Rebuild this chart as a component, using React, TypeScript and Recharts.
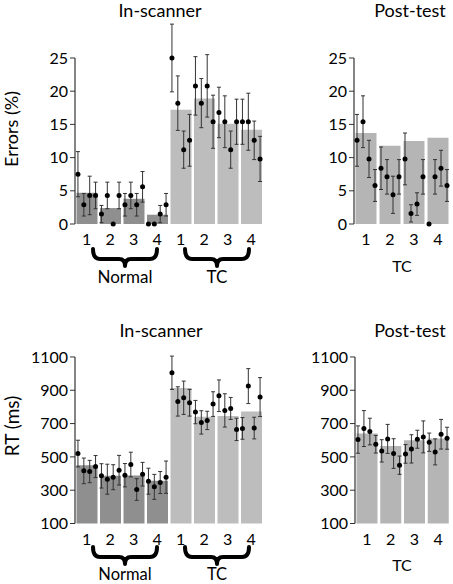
import React from 'react';
import { ComposedChart, Bar, Cell, Scatter, ErrorBar, XAxis, YAxis, ReferenceLine } from 'recharts';

// tick labels
const scanCats = ['1', '2', '3', '4', '1', '2', '3', '4'];
const postCats = ['1', '2', '3', '4'];

// in-scanner errors (%) — 4 points per condition
const scanErrMeans = [4.7, 2.4, 3.8, 1.4, 17.2, 18.9, 15.1, 14.2];
const scanErrPts = [
  7.5, 2.9, 4.3, 4.3, 1.5, 4.3, 0, 4.3, 2.9, 4.3, 2.9, 5.6, 0, 0, 1.5, 2.9,
  25.0, 18.2, 11.2, 12.6, 20.8, 18.2, 20.8, 15.4, 16.8, 15.4, 11.2, 15.4, 15.4, 15.4, 12.6, 9.8,
];
const scanErrSe = [
  3.4, 1.7, 2.9, 2.0, 1.3, 2.0, 0, 2.0, 1.7, 2.0, 1.7, 2.3, 0, 0, 1.3, 1.7,
  5.1, 4.1, 2.8, 3.9, 4.4, 3.7, 4.7, 4.0, 3.8, 3.9, 2.8, 3.4, 3.4, 4.3, 2.9, 3.4,
];

// post-test errors (%)
const postErrMeans = [13.7, 11.8, 12.5, 13.0];
const postErrPts = [12.6, 15.4, 9.8, 5.8, 8.4, 7.1, 4.4, 7.1, 9.8, 1.6, 3.0, 7.1, 0, 7.1, 8.4, 5.8];
const postErrSe = [3.9, 3.9, 2.8, 2.4, 3.2, 2.6, 2.8, 2.6, 3.9, 1.3, 1.7, 2.6, 0, 2.6, 2.7, 2.4];

// in-scanner RT (ms)
const scanRtMeans = [450, 386, 388, 356, 914, 741, 745, 773];
const scanRtPts = [
  520, 416, 412, 442, 386, 366, 378, 420, 390, 454, 304, 396, 354, 320, 346, 378,
  1005, 833, 855, 825, 769, 707, 719, 817, 867, 779, 791, 665, 671, 925, 673, 859,
];
const scanRtSe = [
  80, 77, 67, 66, 73, 90, 75, 89, 70, 74, 65, 71, 78, 75, 66, 97,
  100, 88, 100, 80, 70, 70, 55, 74, 95, 100, 66, 67, 65, 105, 65, 117,
];

// post-test RT (ms)
const postRtMeans = [640, 566, 600, 610];
const postRtPts = [604, 670, 652, 576, 536, 608, 520, 450, 518, 548, 606, 620, 588, 530, 636, 612];
const postRtSe = [82, 108, 80, 53, 67, 87, 89, 55, 56, 85, 54, 96, 55, 78, 89, 66];

const errTicks = [0, 5, 10, 15, 20, 25];
const rtTicks = [100, 300, 500, 700, 900, 1100];

const DARK = '#8f8f8f';
const LIGHT = '#bdbdbd';
const POST = '#b5b5b5';
const scanColors = [DARK, DARK, DARK, DARK, LIGHT, LIGHT, LIGHT, LIGHT];
const postColors = [POST, POST, POST, POST];

const AXIS = '#333';
const tickStyle = { fontSize: 16, fill: '#000', fontFamily: 'Lato' };

const Dot = (p: any) => <circle cx={p.cx} cy={p.cy} r={2.5} fill="#000" />;

interface PanelProps {
  left: number;
  top: number;
  width: number;
  height: number;
  margin: { top: number; right: number; bottom: number; left: number };
  yWidth: number;
  cats: string[];
  colors: string[];
  means: number[];
  pts: number[];
  se: number[];
  domain: [number, number];
  ticks: number[];
}

function Panel({ left, top, width, height, margin, yWidth, cats, colors, means, pts, se, domain, ticks }: PanelProps) {
  const barData = cats.map((c, i) => ({ i, mean: means[i] }));
  const pointData = pts.map((v, i) => ({ x: i + 0.5, y: v, e: se[i] }));
  const n = pts.length;
  const bounds = cats.map((_, i) => (i * n) / cats.length).concat(n);

  return (
    <div style={{ position: 'absolute', left, top }}>
      <ComposedChart width={width} height={height} data={barData} margin={margin} barCategoryGap={1.5}>
        <XAxis
          xAxisId="num"
          type="number"
          dataKey="x"
          domain={[0, n]}
          ticks={bounds}
          tickSize={5}
          tickFormatter={() => ''}
          height={0}
          stroke={AXIS}
        />
        <XAxis
          xAxisId="cat"
          dataKey="i"
          tickFormatter={(v: number) => cats[v]}
          axisLine={false}
          tickLine={false}
          tickSize={0}
          tickMargin={10}
          height={30}
          tick={tickStyle}
          interval={0}
        />
        <YAxis
          domain={domain}
          ticks={ticks}
          width={yWidth}
          axisLine={false}
          tickSize={5}
          tickMargin={2}
          tick={tickStyle}
          stroke={AXIS}
          interval={0}
        />
        <ReferenceLine
          xAxisId="num"
          segment={[{ x: 0, y: ticks[0] }, { x: 0, y: ticks[ticks.length - 1] }]}
          stroke={AXIS}
          strokeWidth={1.2}
        />
        <Bar xAxisId="cat" dataKey="mean" isAnimationActive={false}>
          {barData.map((d) => (
            <Cell key={d.i} fill={colors[d.i]} />
          ))}
        </Bar>
        <Scatter xAxisId="num" data={pointData} dataKey="y" shape={Dot} isAnimationActive={false}>
          <ErrorBar dataKey="e" direction="y" width={2} stroke="#333" strokeWidth={1} />
        </Scatter>
      </ComposedChart>
    </div>
  );
}

function brace(x1: number, x2: number, y0: number) {
  const mid = (x1 + x2) / 2;
  const yb = y0 + 10;
  const yt = y0 + 17;
  return `M${x1} ${y0} Q${x1} ${yb} ${x1 + 7} ${yb} L${mid - 6} ${yb} Q${mid} ${yb} ${mid} ${yt} Q${mid} ${yb} ${mid + 6} ${yb} L${x2 - 7} ${yb} Q${x2} ${yb} ${x2} ${y0}`;
}

export default function App() {
  const topM = { top: 11.5, right: 12, bottom: 36, left: 30 };
  const botM = { top: 40.3, right: 12, bottom: 30.5, left: 25 };
  return (
    <div style={{ position: 'relative', width: 453, height: 584, background: '#fff', fontFamily: 'Lato', overflow: 'hidden' }}>
      <style>{'body{margin:0}'}</style>
      <Panel left={0} top={0} width={275} height={290} margin={topM} yWidth={45}
        cats={scanCats} colors={scanColors} means={scanErrMeans} pts={scanErrPts} se={scanErrSe}
        domain={[0, 32]} ticks={errTicks} />
      <Panel left={280} top={0} width={173} height={290} margin={{ ...topM, right: 3, left: 30 }} yWidth={44}
        cats={postCats} colors={postColors} means={postErrMeans} pts={postErrPts} se={postErrSe}
        domain={[0, 32]} ticks={errTicks} />
      <Panel left={0} top={300} width={275} height={284} margin={botM} yWidth={50}
        cats={scanCats} colors={scanColors} means={scanRtMeans} pts={scanRtPts} se={scanRtSe}
        domain={[100, 1200]} ticks={rtTicks} />
      <Panel left={280} top={300} width={173} height={284} margin={{ ...botM, right: 3 }} yWidth={50}
        cats={postCats} colors={postColors} means={postRtMeans} pts={postRtPts} se={postRtSe}
        domain={[100, 1200]} ticks={rtTicks} />

      <svg width={453} height={584} style={{ position: 'absolute', left: 0, top: 0, pointerEvents: 'none' }}>
        <g fill="#000" fontFamily="Lato" textAnchor="middle">
          <text x={160} y={16.7} fontSize={18}>In-scanner</text>
          <text x={410} y={16.7} fontSize={18}>Post-test</text>
          <text x={161} y={336.5} fontSize={18}>In-scanner</text>
          <text x={410} y={336.5} fontSize={18}>Post-test</text>
          <text transform="translate(17.5,129) rotate(-90)" fontSize={18}>Errors (%)</text>
          <text transform="translate(18.5,426) rotate(-90)" fontSize={19}>RT (ms)</text>
          <text x={125} y={283} fontSize={17}>Normal</text>
          <text x={217} y={283} fontSize={17}>TC</text>
          <text x={125} y={580} fontSize={16.5}>Normal</text>
          <text x={217} y={580} fontSize={16.5}>TC</text>
          <text x={402} y={271.7} fontSize={16}>TC</text>
          <text x={402} y={570.7} fontSize={16}>TC</text>
        </g>
        <g fill="none" stroke="#000" strokeWidth={4} strokeLinecap="round" strokeLinejoin="round">
          <path d={brace(93, 157, 249)} />
          <path d={brace(185, 249, 249)} />
          <path d={brace(93, 157, 547)} />
          <path d={brace(185, 249, 547)} />
        </g>
      </svg>
    </div>
  );
}
